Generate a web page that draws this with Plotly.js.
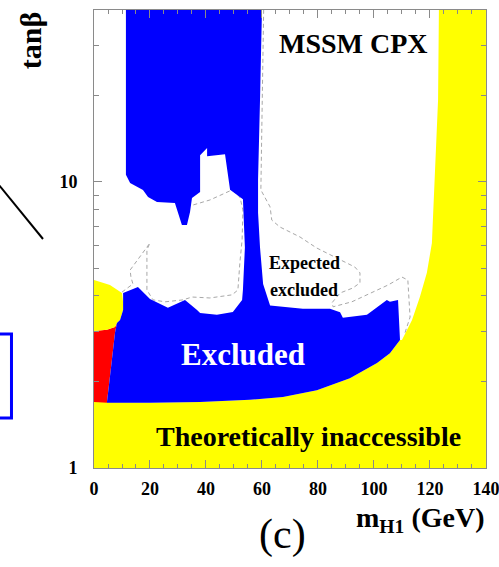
<!DOCTYPE html>
<html>
<head>
<meta charset="utf-8">
<script src="https://cdn.plot.ly/plotly-3.0.1.min.js"></script>
<style>html,body{margin:0;padding:0;background:#fff;}#chart{width:499px;height:567px;}</style>
</head>
<body>
<div id="chart"></div>
<script>
// ---- data (x: m_H1 in GeV, y: tan beta) ----
const blueX = [11.4, 60, 59.3, 58.6, 58.6, 59.3, 60.4, 62.9, 74.6, 84.3, 87.9, 88.9, 97.5, 104.6, 105.7, 108.6, 109.3, 105.7, 101.1, 91.4, 79.6, 67.5, 55.7, 37.9, 20, 4.6, 6.4, 7.5, 8.2, 9.3, 10.4, 10.4, 15.7, 20, 26.4, 32.5, 36.8, 37.9, 43.9, 49.6, 52.9, 53.2, 53.9, 53.2, 48.6, 46.8, 40.4, 40.4, 37.9, 37.9, 35, 34.3, 33.2, 31.4, 28.9, 22.5, 19.3, 17.5, 12.9, 11.4];
const blueY = [40, 40, 19.4, 10.2, 7.8, 5.9, 4.4, 3.7, 3.6, 3.6, 3.5, 3.35, 3.43, 3.87, 3.81, 3.87, 2.8, 2.52, 2.33, 2.06, 1.87, 1.77, 1.73, 1.70, 1.69, 1.69, 2.39, 2.97, 3.21, 3.29, 3.57, 4.09, 4.29, 3.9, 3.63, 3.87, 3.57, 3.48, 3.43, 3.51, 3.87, 4.2, 5.9, 8.7, 9.4, 12.5, 12.3, 13.15, 12.4, 9.23, 8.79, 7.85, 7.07, 7.07, 8.45, 8.51, 8.86, 9.38, 9.92, 10.6];

const yellowX = [0, 140, 140, 123.2, 122.9, 122.1, 121.4, 120.7, 118.9, 116.4, 113.6, 110, 109.3, 105.7, 101.1, 91.4, 79.6, 67.5, 55.7, 37.9, 20, 4.6, 0];
const yellowY = [1, 1, 40, 40, 19.4, 12.9, 8.65, 6.12, 4.81, 3.96, 3.29, 2.8, 2.8, 2.52, 2.33, 2.06, 1.87, 1.77, 1.73, 1.70, 1.69, 1.69, 1.70];

const redX = [0, 4.6, 6.4, 7.5, 8.2, 7.5, 4.6, 0];
const redY = [1.70, 1.69, 2.39, 2.97, 3.21, 3.11, 3.04, 3.01];

const yellowTopX = [0, 5.7, 10, 10.4, 10.4, 9.3, 8.2, 7.5, 4.6, 0];
const yellowTopY = [4.54, 4.36, 4.09, 3.8, 3.57, 3.29, 3.21, 3.11, 3.04, 3.01];

const expAX = [10, 13.9, 13.2, 12.9, 20, 18.9, 18.9, 21.1, 25.4, 31.8, 35, 41.4, 49.3, 51.4, 52.1, 52.9, 53.2, 52.1, 49.3, 41.4, 35.4];
const expAY = [4.12, 4.4, 4.65, 4.92, 6.12, 5.8, 4.19, 3.87, 3.81, 3.87, 3.96, 3.93, 4.03, 4.19, 5.21, 6.27, 7.98, 8.86, 9.38, 8.65, 8.31];

const expBX = [60.6, 60.2, 59.6, 62.9, 63.5, 66.4, 73.6, 79.5, 87.9, 93.2, 95, 95, 92.5, 87.9, 85, 85.4, 92.1, 105, 110, 112.1, 112.9, 111.1];
const expBY = [40, 25, 9.38, 8.18, 7.36, 6.96, 6.42, 5.88, 5.34, 5.04, 4.81, 4.44, 4.26, 4.09, 3.78, 3.66, 3.81, 4.36, 4.65, 4.54, 3.37, 2.97];

const xTicks = [0, 20, 40, 60, 80, 100, 120, 140];
const yTicks = [1, 10];
const yTickText = ['1', '10'];
const yMinor = [2, 3, 4, 5, 6, 7, 8, 9, 20, 30];

// ---- styling ----
const SERIF = 'Liberation Serif, Times New Roman, serif';
const YEL = '#ffff00', BLU = '#0000ff', RED = '#ff0000';

function dashed(x, y) {
  return {x: x, y: y, type: 'scatter', mode: 'lines', hoverinfo: 'skip', showlegend: false,
    line: {color: '#a8a8a8', width: 1, dash: '4px,3px'}};
}
function area(x, y, c) {
  return {x: x, y: y, type: 'scatter', mode: 'lines', fill: 'toself', fillcolor: c,
    hoverinfo: 'skip', showlegend: false, line: {width: 0, color: c}};
}

const data = [
  dashed(expAX, expAY),
  dashed(expBX, expBY),
  area(yellowX, yellowY, YEL),
  area(redX, redY, RED),
  area(yellowTopX, yellowTopY, YEL),
  area(blueX, blueY, BLU)
];

const axisCommon = {
  showline: true, linecolor: '#8a8a8a', linewidth: 1, mirror: 'ticks',
  ticks: 'inside', ticklen: 8, tickcolor: '#8a8a8a', tickwidth: 1,
  showgrid: false, zeroline: false, ticklabeloverflow: 'allow',
  tickfont: {family: SERIF, size: 18, color: '#000', weight: 700}
};

function note(x, y, text, size, color, extra) {
  return Object.assign({xref: 'paper', yref: 'paper', x: x, y: y, text: text, showarrow: false,
    xanchor: 'center', yanchor: 'middle',
    font: {family: SERIF, size: size, color: color, weight: 700}}, extra || {});
}

const layout = {
  width: 499, height: 567,
  margin: {l: 94, r: 13, t: 10, b: 99},
  paper_bgcolor: '#fff', plot_bgcolor: '#fff',
  xaxis: Object.assign({}, axisCommon, {
    range: [0, 140.02], tickmode: 'array', tickvals: xTicks,
    ticklabelstandoff: 4,
    minor: {dtick: 5, tick0: 0, ticks: 'inside', ticklen: 4, tickcolor: '#8a8a8a'}
  }),
  yaxis: Object.assign({}, axisCommon, {
    type: 'log', range: [-0.0002, 1.6014], tickmode: 'array', tickvals: yTicks, ticktext: yTickText,
    ticklabelstandoff: 12,
    minor: {tickmode: 'array', tickvals: yMinor, ticks: 'inside', ticklen: 5, tickcolor: '#8a8a8a'}
  }),
  annotations: [
    note(0.661, 0.926, 'MSSM CPX', 28, '#000'),
    note(0.381, 0.248, 'Excluded', 31, '#fff'),
    note(0.536, 0.448, 'Expected', 18, '#000'),
    note(0.536, 0.388, 'excluded', 18, '#000'),
    note(0.546, 0.068, 'Theoretically inaccessible', 28, '#000'),
    note(-0.163, 0.932, 'tanβ', 30, '#000', {textangle: -90}),
    note(0.832, -0.113, 'm<sub>H1</sub> (GeV)', 28, '#000'),
    note(0.480, -0.146, '(c)', 42, '#000', {font: {family: SERIF, size: 42, color: '#000', weight: 400}})
  ],
  shapes: [
    {type: 'line', xref: 'paper', yref: 'paper', x0: -0.252, y0: 0.628, x1: -0.1301, y1: 0.5,
      line: {color: '#000', width: 2}},
    {type: 'rect', xref: 'paper', yref: 'paper', x0: -0.291, y0: 0.109, x1: -0.2105, y1: 0.2926,
      line: {color: BLU, width: 3}}
  ]
};

Plotly.newPlot('chart', data, layout, {staticPlot: true, displayModeBar: false});
</script>
</body>
</html>
